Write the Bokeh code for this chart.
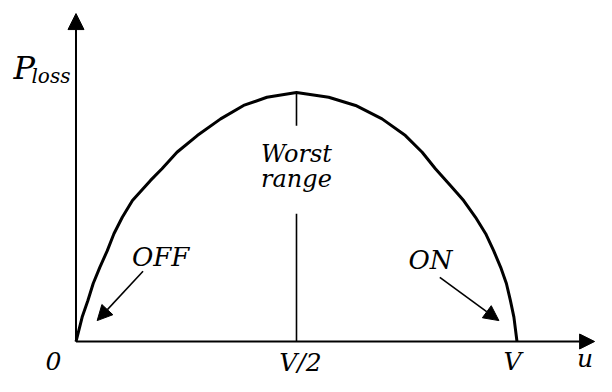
from bokeh.plotting import figure
from bokeh.models import Arrow, NormalHead, Range1d
from bokeh.core.properties import value
from bokeh.embed import file_html
from bokeh.resources import INLINE

# Curve (u in units of V, P_loss normalised to its peak)
u_vals = [0.0, 0.014, 0.027, 0.039, 0.054, 0.071, 0.086, 0.105, 0.128, 0.169,
          0.195, 0.229, 0.275, 0.328, 0.380, 0.433, 0.500,
          0.573, 0.634, 0.694, 0.747, 0.785, 0.815, 0.849, 0.879, 0.906,
          0.929, 0.947, 0.963, 0.976, 0.985, 0.993, 1.0]
p_vals = [0.0, 0.098, 0.165, 0.233, 0.298, 0.365, 0.433, 0.499, 0.566, 0.647,
          0.694, 0.760, 0.827, 0.894, 0.948, 0.981, 1.0,
          0.981, 0.948, 0.894, 0.827, 0.760, 0.694, 0.627, 0.566, 0.499,
          0.433, 0.365, 0.298, 0.233, 0.165, 0.098, 0.0]

# Axis extents (arrow tips)
x_axis_end = 1.176
y_axis_end = 1.317

# "Worst range" marker at V/2 (line broken around the label)
worst_u = 0.5
worst_top = [1.0, 0.867]
worst_bottom = [0.513, 0.0]

# Annotation arrows: (start_u, start_p, tip_u, tip_p)
off_arrow = [0.152, 0.282, 0.048, 0.084]
on_arrow = [0.825, 0.258, 0.959, 0.084]

# Labels
label_text = ["Worst", "range", "OFF", "ON", "0", "V/2", "V", "u"]
label_u = [0.5, 0.5, 0.127, 0.754, -0.051, 0.509, 0.990, 1.136]
label_p = [0.753, 0.651, 0.341, 0.329, -0.080, -0.084, -0.080, -0.068]
label_align = ["center", "center", "left", "left", "center", "center", "center", "left"]
label_size = ["24px", "24px", "26px", "26px", "25px", "25px", "25px", "25px"]

ylabel_main = "P"
ylabel_sub = "loss"
ylabel_u = [-0.142, -0.101]
ylabel_p = [1.097, 1.066]

FONT = value("DejaVu Serif")

p = figure(width=596, height=376, output_backend="svg", toolbar_location=None,
           x_axis_location=None, y_axis_location=None, min_border=0,
           x_range=Range1d(-0.1712, 1.1803), y_range=Range1d(-0.1405, 1.3695))
p.grid.visible = False
p.outline_line_color = None
p.background_fill_color = "white"
p.border_fill_color = "white"

# Axes as arrows
p.add_layout(Arrow(x_start=0, y_start=0, x_end=0, y_end=y_axis_end,
                   line_width=2, line_color="black",
                   end=NormalHead(size=16, fill_color="black", line_color="black", line_width=1)))
p.add_layout(Arrow(x_start=0, y_start=0, x_end=x_axis_end, y_end=0,
                   line_width=2, line_color="black",
                   end=NormalHead(size=15, fill_color="black", line_color="black", line_width=1)))

# Loss curve
p.line(u_vals, p_vals, line_width=3, line_color="black", line_join="round")

# Worst range vertical line
p.line([worst_u, worst_u], worst_top, line_width=1.6, line_color="black")
p.line([worst_u, worst_u], worst_bottom, line_width=1.6, line_color="black")

# OFF / ON arrows
for a in (off_arrow, on_arrow):
    p.add_layout(Arrow(x_start=a[0], y_start=a[1], x_end=a[2], y_end=a[3],
                       line_width=1.6, line_color="black",
                       end=NormalHead(size=15, fill_color="black", line_color="black", line_width=1)))

# Labels
for t, x, y, al, fs in zip(label_text, label_u, label_p, label_align, label_size):
    p.text(x=[x], y=[y], text=[t], text_font=FONT, text_font_style="italic",
           text_font_size=fs, text_align=al, text_baseline="middle",
           text_color="black")

p.text(x=[ylabel_u[0]], y=[ylabel_p[0]], text=[ylabel_main], text_font=FONT,
       text_font_style="italic", text_font_size="32px", text_align="left",
       text_baseline="middle", text_color="black")
p.text(x=[ylabel_u[1]], y=[ylabel_p[1]], text=[ylabel_sub], text_font=FONT,
       text_font_style="italic", text_font_size="20px", text_align="left",
       text_baseline="middle", text_color="black")

open("out.html", "w").write(file_html(p, INLINE))
